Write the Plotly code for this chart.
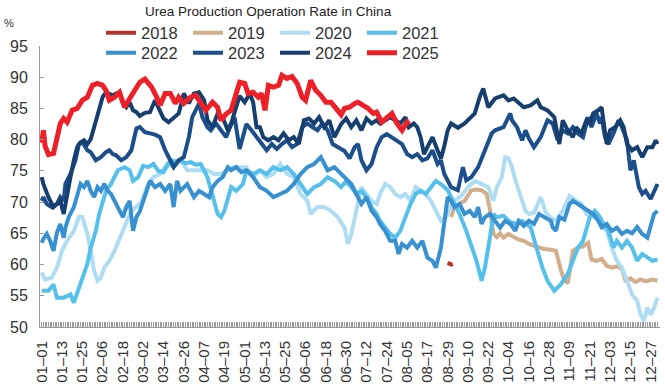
import plotly.graph_objects as go

# ---------------- data: (day of year, operating rate %) ----------------
tick_labels = ["01–01", "01–13", "01–25", "02–06", "02–18", "03–02", "03–14", "03–26",
               "04–07", "04–19", "05–01", "05–13", "05–25", "06–06", "06–18", "06–30",
               "07–12", "07–24", "08–05", "08–17", "08–29", "09–10", "09–22", "10–04",
               "10–16", "10–28", "11–09", "11–21", "12–03", "12–15", "12–27"]

pts_2018 = [(241, 60.3), (242, 60.1), (243, 60.0), (244, 60.1)]

pts_2019 = [(243, 67.6), (245, 69.2), (248, 69.8), (251, 70.2), (255, 71.9), (258, 72.0), (261, 71.9),
            (264, 71.3), (266, 68.8), (268, 65.0), (270, 64.4), (272, 65.0), (274, 64.3), (277, 64.9),
            (280, 64.4), (283, 64.0), (286, 63.8), (289, 63.3), (292, 63.0), (295, 62.7), (298, 62.5),
            (301, 62.4), (305, 62.2), (308, 59.0), (310, 57.5), (312, 57.0), (313, 58.5), (315, 62.2),
            (318, 62.7), (321, 62.9), (324, 63.5), (326, 60.8), (329, 60.6), (332, 60.9), (335, 59.8),
            (338, 59.5), (341, 59.7), (344, 59.3), (346, 57.5), (349, 57.8), (352, 57.2), (355, 57.6),
            (358, 57.3), (362, 57.6), (365, 57.4)]

pts_2020 = [(1, 58.7), (3, 57.6), (7, 57.9), (10, 59.5), (13, 62.2), (16, 63.8), (20, 65.4), (23, 67.6),
            (25, 67.6), (28, 64.9), (30, 62.2), (32, 59.0), (34, 57.4), (36, 57.9), (38, 59.5),
            (41, 60.6), (44, 62.2), (48, 64.9), (51, 67.0), (54, 68.6), (58, 69.5), (60, 70.0),
            (63, 72.4), (67, 74.0), (71, 74.5), (75, 76.1), (79, 75.6), (83, 76.7), (87, 75.1),
            (91, 75.1), (95, 75.1), (99, 75.1), (103, 74.5), (107, 74.5), (111, 75.1), (114, 75.6),
            (118, 75.6), (122, 75.6), (126, 74.0), (130, 75.1), (134, 74.0), (138, 74.5), (142, 76.1),
            (146, 74.5), (150, 74.0), (154, 71.3), (158, 70.2), (160, 68.1), (164, 69.2), (168, 69.2),
            (172, 68.6), (176, 67.6), (180, 65.9), (182, 63.3), (184, 64.9), (186, 67.6), (188, 70.2),
            (190, 72.4), (193, 71.3), (196, 70.2), (199, 69.7), (201, 71.3), (204, 72.9), (207, 72.4),
            (210, 71.3), (213, 70.8), (216, 71.3), (219, 70.2), (222, 72.4), (225, 71.8), (228, 71.3),
            (231, 70.2), (234, 68.6), (237, 67.0), (240, 67.6), (243, 69.5), (245, 70.2), (249, 71.0),
            (253, 72.4), (257, 73.4), (261, 72.9), (265, 72.4), (268, 70.2), (270, 72.4), (273, 74.0),
            (275, 77.2), (277, 77.0), (279, 75.6), (281, 73.5), (283, 72.0), (285, 70.5), (287, 68.6),
            (289, 68.1), (292, 68.3), (296, 70.8), (299, 68.3), (302, 67.5), (305, 67.0), (309, 68.6),
            (313, 71.0), (317, 70.2), (320, 69.7), (323, 68.1), (326, 67.6), (329, 67.6), (332, 66.0),
            (335, 65.4), (338, 62.7), (341, 60.6), (344, 59.5), (347, 57.4), (350, 55.2), (353, 54.2),
            (355, 52.0), (357, 51.0), (359, 53.1), (361, 52.0), (363, 53.1), (365, 54.7)]

pts_2021 = [(1, 55.8), (5, 55.8), (8, 56.8), (10, 54.7), (14, 54.7), (18, 55.2), (20, 53.9), (23, 56.3),
            (25, 57.9), (28, 60.1), (30, 62.7), (33, 65.4), (35, 68.1), (37, 70.2), (39, 71.8),
            (42, 72.9), (46, 75.1), (50, 75.6), (53, 75.1), (55, 73.4), (58, 74.0), (61, 75.8),
            (64, 75.6), (67, 76.1), (70, 75.0), (73, 74.8), (77, 76.7), (80, 76.5), (83, 76.7),
            (86, 76.2), (89, 76.4), (92, 76.0), (95, 76.1), (99, 74.0), (102, 71.3), (105, 68.1),
            (107, 67.6), (109, 68.6), (113, 72.4), (116, 71.8), (120, 72.9), (122, 75.1), (126, 74.5),
            (130, 75.1), (134, 74.5), (138, 75.6), (142, 75.1), (146, 75.6), (150, 74.5), (154, 72.9),
            (158, 71.3), (162, 72.4), (166, 72.9), (170, 74.0), (174, 73.4), (178, 72.4), (181, 73.4),
            (184, 72.4), (187, 71.3), (190, 71.8), (193, 70.8), (196, 69.2), (199, 68.1), (201, 67.0),
            (204, 65.9), (207, 64.9), (210, 64.3), (213, 65.4), (216, 67.6), (219, 69.7), (222, 71.3),
            (225, 71.8), (228, 71.3), (231, 72.4), (234, 73.4), (237, 72.9), (241, 71.9), (246, 69.2),
            (248, 68.1), (252, 65.4), (256, 62.2), (258, 60.6), (261, 57.4), (263, 59.5), (266, 64.4),
            (268, 68.1), (270, 67.6), (274, 67.8), (278, 66.8), (282, 66.5), (285, 67.0), (290, 66.0),
            (294, 62.2), (297, 59.5), (300, 57.4), (304, 55.8), (308, 56.9), (312, 58.5), (315, 60.6),
            (318, 62.7), (321, 63.8), (323, 66.0), (325, 67.6), (328, 68.6), (331, 67.6), (333, 66.5),
            (336, 65.4), (339, 62.7), (341, 63.8), (344, 62.7), (347, 63.8), (350, 62.7), (353, 60.6),
            (356, 61.7), (359, 61.1), (362, 60.6), (365, 60.8)]

pts_2022 = [(1, 63.5), (2, 64.1), (4, 64.9), (6, 63.8), (8, 62.2), (10, 65.1), (12, 66.5), (14, 64.3),
            (15, 65.9), (17, 67.6), (20, 69.2), (22, 71.3), (24, 72.9), (26, 72.4), (28, 73.4),
            (30, 71.8), (32, 70.8), (34, 72.4), (36, 71.8), (38, 72.9), (40, 71.8), (42, 71.3),
            (46, 69.2), (49, 67.6), (51, 69.2), (53, 70.2), (55, 65.4), (57, 67.6), (59, 68.5),
            (62, 71.0), (65, 73.4), (68, 72.4), (71, 72.9), (74, 71.8), (77, 72.9), (79, 69.2),
            (81, 73.4), (83, 71.8), (87, 72.9), (91, 70.8), (94, 71.8), (97, 71.3), (100, 70.8),
            (102, 72.4), (105, 73.4), (108, 74.0), (111, 75.6), (113, 75.1), (116, 75.6), (119, 74.8),
            (122, 75.1), (126, 74.0), (130, 72.4), (134, 71.8), (138, 70.8), (142, 71.3), (146, 71.8),
            (150, 72.9), (154, 74.5), (158, 75.6), (162, 76.1), (166, 77.2), (170, 75.1), (174, 75.6),
            (178, 74.5), (181, 73.6), (184, 72.9), (187, 71.3), (190, 69.7), (193, 70.8), (196, 68.6),
            (199, 67.6), (201, 66.5), (204, 65.4), (207, 63.8), (210, 63.8), (212, 61.7), (214, 63.3),
            (217, 62.7), (220, 63.8), (223, 62.7), (226, 63.8), (229, 61.1), (232, 60.6), (234, 59.5),
            (237, 62.7), (239, 67.0), (241, 70.8), (243, 70.2), (245, 69.2), (248, 69.7), (251, 68.1),
            (254, 68.6), (257, 67.6), (259, 69.2), (261, 66.5), (263, 67.6), (266, 68.1), (269, 67.0),
            (272, 65.9), (275, 67.0), (278, 66.5), (281, 65.4), (283, 67.0), (286, 66.2), (289, 67.0),
            (292, 66.5), (295, 68.1), (298, 67.6), (302, 67.0), (303, 66.0), (305, 65.4), (307, 67.6),
            (310, 67.2), (313, 69.7), (315, 70.2), (318, 69.7), (321, 69.2), (324, 68.6), (327, 68.1),
            (330, 67.0), (332, 66.0), (335, 66.5), (338, 65.4), (341, 65.9), (344, 64.9), (347, 65.4),
            (350, 65.0), (353, 66.0), (356, 64.9), (359, 64.3), (361, 66.0), (363, 68.1), (365, 68.6)]

pts_2023 = [(1, 70.2), (2, 70.8), (4, 69.7), (7, 69.2), (10, 69.7), (12, 70.8), (14, 70.2), (15, 72.9),
            (18, 74.5), (21, 76.7), (23, 79.3), (25, 79.6), (28, 78.3), (30, 78.0), (33, 76.7),
            (36, 77.2), (39, 78.0), (41, 78.3), (43, 77.7), (45, 77.5), (48, 76.7), (51, 77.2),
            (54, 78.3), (57, 81.8), (59, 82.0), (62, 81.2), (65, 81.0), (68, 80.8), (71, 80.4),
            (74, 78.3), (77, 76.7), (79, 75.6), (82, 76.7), (85, 77.2), (88, 80.4), (90, 83.6),
            (92, 84.7), (94, 85.8), (96, 83.6), (99, 82.0), (101, 81.5), (104, 82.6), (107, 81.5),
            (110, 80.4), (112, 81.8), (115, 83.6), (118, 78.5), (120, 80.5), (122, 82.5), (125, 81.5),
            (128, 80.4), (131, 79.3), (134, 78.3), (137, 79.3), (140, 78.5), (143, 79.3), (146, 79.9),
            (149, 78.8), (152, 79.3), (155, 82.0), (158, 82.6), (161, 82.0), (164, 81.5), (167, 82.6),
            (170, 81.5), (173, 79.3), (177, 78.6), (180, 78.2), (183, 77.0), (186, 78.8), (188, 79.3),
            (190, 76.7), (193, 75.1), (196, 76.1), (199, 78.8), (202, 80.4), (205, 80.9), (208, 80.4),
            (211, 79.9), (214, 79.3), (217, 77.7), (220, 77.2), (223, 77.7), (226, 76.7), (229, 77.0),
            (232, 78.3), (235, 76.1), (237, 76.7), (239, 74.5), (241, 73.4), (243, 72.4), (247, 71.9),
            (250, 75.6), (252, 73.5), (255, 74.0), (259, 75.6), (263, 78.3), (267, 81.0), (269, 81.5),
            (274, 82.0), (278, 84.2), (279, 83.1), (282, 82.0), (285, 79.9), (287, 81.5), (289, 80.2),
            (292, 78.8), (296, 80.4), (300, 83.1), (303, 82.6), (306, 79.9), (309, 81.5), (312, 81.0),
            (315, 82.0), (318, 81.0), (321, 80.4), (324, 83.6), (326, 82.0), (329, 84.2), (331, 82.6),
            (332, 83.6), (334, 80.4), (336, 79.3), (339, 81.0), (342, 83.1), (344, 82.0), (347, 79.9),
            (349, 75.1), (351, 76.7), (354, 72.4), (356, 71.3), (358, 71.8), (361, 70.5), (363, 71.8),
            (365, 72.9)]

pts_2024 = [(1, 74.0), (2, 72.9), (5, 70.8), (8, 69.2), (10, 69.7), (12, 70.2), (14, 68.1), (16, 71.3),
            (18, 74.0), (20, 76.7), (22, 78.8), (24, 79.6), (26, 79.9), (28, 79.3), (30, 80.1),
            (32, 82.0), (35, 84.7), (37, 86.8), (39, 87.6), (41, 87.4), (43, 87.1), (45, 87.4),
            (47, 87.6), (49, 85.8), (51, 85.2), (53, 86.0), (55, 84.7), (57, 84.4), (59, 83.8),
            (62, 84.3), (65, 84.4), (68, 86.3), (71, 84.7), (73, 83.4), (76, 82.8), (79, 83.6),
            (82, 84.2), (85, 87.4), (88, 85.8), (91, 87.4), (94, 87.6), (97, 86.3), (99, 83.1),
            (102, 82.0), (105, 84.2), (108, 83.6), (111, 81.5), (113, 82.6), (116, 85.2), (118, 87.0),
            (121, 86.0), (124, 87.4), (126, 86.0), (128, 82.0), (130, 82.0), (132, 80.4), (135, 79.9),
            (138, 80.4), (141, 79.9), (144, 81.0), (147, 79.9), (150, 80.4), (153, 79.3), (156, 83.1),
            (159, 83.4), (162, 82.6), (165, 83.6), (168, 82.0), (171, 83.1), (174, 80.4), (178, 82.5),
            (181, 83.4), (184, 82.0), (187, 83.1), (190, 81.5), (193, 83.4), (196, 82.6), (199, 83.1),
            (201, 82.6), (204, 83.1), (207, 83.6), (210, 83.1), (213, 82.6), (216, 83.6), (218, 82.0),
            (221, 82.6), (223, 82.0), (225, 80.4), (227, 77.7), (229, 78.8), (232, 80.4), (235, 78.3),
            (237, 77.0), (239, 79.0), (241, 81.5), (243, 82.6), (247, 81.9), (251, 82.6), (257, 84.2),
            (260, 86.9), (262, 88.2), (265, 85.2), (269, 86.6), (274, 87.1), (277, 86.3), (280, 86.6),
            (283, 85.8), (286, 85.2), (290, 85.5), (294, 86.3), (296, 85.2), (300, 84.7), (304, 83.6),
            (306, 81.0), (307, 79.3), (309, 83.1), (312, 81.5), (315, 80.4), (317, 82.0), (320, 81.0),
            (323, 83.1), (325, 82.6), (327, 84.2), (330, 84.7), (332, 85.2), (333, 83.1), (335, 79.3),
            (337, 81.5), (340, 82.0), (343, 83.1), (345, 82.0), (347, 79.3), (350, 78.3), (353, 78.8),
            (356, 77.2), (359, 78.8), (362, 78.8), (364, 79.9), (365, 79.3)]

pts_2025 = [(1, 79.5), (2, 81.5), (3, 79.0), (5, 77.6), (8, 77.8), (10, 80.0), (12, 82.6), (14, 83.4),
            (16, 82.8), (19, 84.7), (22, 85.0), (25, 86.3), (28, 86.8), (31, 88.7), (34, 89.0),
            (37, 88.7), (39, 87.9), (41, 86.3), (44, 86.8), (47, 87.6), (50, 85.2), (53, 86.6),
            (56, 87.9), (59, 89.2), (62, 89.7), (66, 88.4), (69, 86.8), (71, 85.5), (74, 87.4),
            (77, 87.4), (80, 85.8), (82, 86.8), (85, 85.8), (89, 86.8), (92, 87.1), (95, 85.8),
            (98, 84.7), (102, 86.0), (105, 85.2), (107, 83.1), (110, 84.1), (113, 84.7), (115, 86.3),
            (118, 89.2), (121, 89.0), (123, 87.4), (126, 87.6), (129, 86.8), (131, 87.4), (133, 84.7),
            (135, 88.7), (138, 88.4), (141, 88.7), (143, 90.3), (146, 89.8), (149, 90.1), (152, 89.0),
            (155, 86.8), (157, 86.3), (160, 89.5), (163, 87.9), (166, 87.1), (169, 86.0), (172, 86.0),
            (175, 85.0), (178, 84.0), (180, 85.0), (183, 85.2), (186, 85.8), (188, 86.0), (191, 85.5),
            (194, 85.0), (197, 84.2), (199, 84.4), (202, 82.8), (205, 83.4), (208, 84.2), (211, 82.6),
            (214, 81.5), (217, 82.8), (218, 82.4)]

series = [
    ("2018", pts_2018, "#B5312D", 4, "legend"),
    ("2019", pts_2019, "#D2AF8A", 4, "legend"),
    ("2020", pts_2020, "#AEDCF3", 4, "legend"),
    ("2021", pts_2021, "#55C0EC", 4, "legend"),
    ("2022", pts_2022, "#3791D1", 4, "legend2"),
    ("2023", pts_2023, "#1C4E8B", 4, "legend2"),
    ("2024", pts_2024, "#163F70", 4, "legend2"),
    ("2025", pts_2025, "#EE2027", 5, "legend2"),
]

fig = go.Figure()
for name, pts, color, w, lg in series:
    fig.add_trace(go.Scatter(x=[p[0] for p in pts], y=[p[1] for p in pts], mode="lines",
                             name=name, legend=lg, line=dict(color=color, width=w)))

tick_days = [1 + 12 * i for i in range(len(tick_labels))]

FONT = "Liberation Sans, Arial, sans-serif"

# figure geometry (pixels)
L, T, PW, PH = 40, 46, 620, 281


def px_x(px):
    return (px - L) / PW


def px_y(py):
    return 1 + (T - py) / PH


legend_common = dict(orientation="h", x=px_x(101), xanchor="left", yanchor="middle",
                     entrywidth=42, bgcolor="rgba(0,0,0,0)", traceorder="normal",
                     font=dict(family=FONT, size=16.5, color="#333333"), itemwidth=30)

fig.update_layout(
    width=665, height=391,
    margin=dict(l=L, r=5, t=T, b=391 - T - PH, autoexpand=False),
    paper_bgcolor="white", plot_bgcolor="white",
    font=dict(family=FONT, color="#333333", size=15),
    showlegend=True,
    legend=dict(legend_common, y=px_y(33)),
    legend2=dict(legend_common, y=px_y(53)),
    annotations=[
        dict(text="Urea Production Operation Rate in China", x=px_x(268), y=px_y(11),
             xref="paper", yref="paper", xanchor="center", yanchor="middle", showarrow=False,
             font=dict(family=FONT, size=13.5, color="#222222")),
        dict(text="%", x=px_x(9), y=px_y(23), xref="paper", yref="paper",
             xanchor="center", yanchor="middle", showarrow=False,
             font=dict(family=FONT, size=11, color="#333333")),
    ],
)

fig.update_xaxes(range=[0, 366.5], tickmode="array", tickvals=tick_days, ticktext=tick_labels,
                 tickangle=-90, ticks="inside", ticklen=5, tickcolor="#9A9A9A",
                 showline=True, linecolor="#9A9A9A", linewidth=1, showgrid=False, zeroline=False,
                 automargin=False, ticklabelstandoff=7, tickfont=dict(size=15, color="#333333"),
                 minor=dict(tickmode="linear", tick0=1, dtick=1, ticks="inside", ticklen=5,
                            tickcolor="#9A9A9A", showgrid=False))
fig.update_yaxes(range=[50, 95], dtick=5, ticks="inside", ticklen=4, tickcolor="#9A9A9A",
                 showline=True, linecolor="#9A9A9A", linewidth=1, showgrid=False, zeroline=False,
                 automargin=False, ticklabelstandoff=8, tickfont=dict(size=16, color="#333333"))

fig.write_html("out.html", config={"displayModeBar": False},
               post_script="document.body.style.margin='0';document.body.style.padding='0';")
